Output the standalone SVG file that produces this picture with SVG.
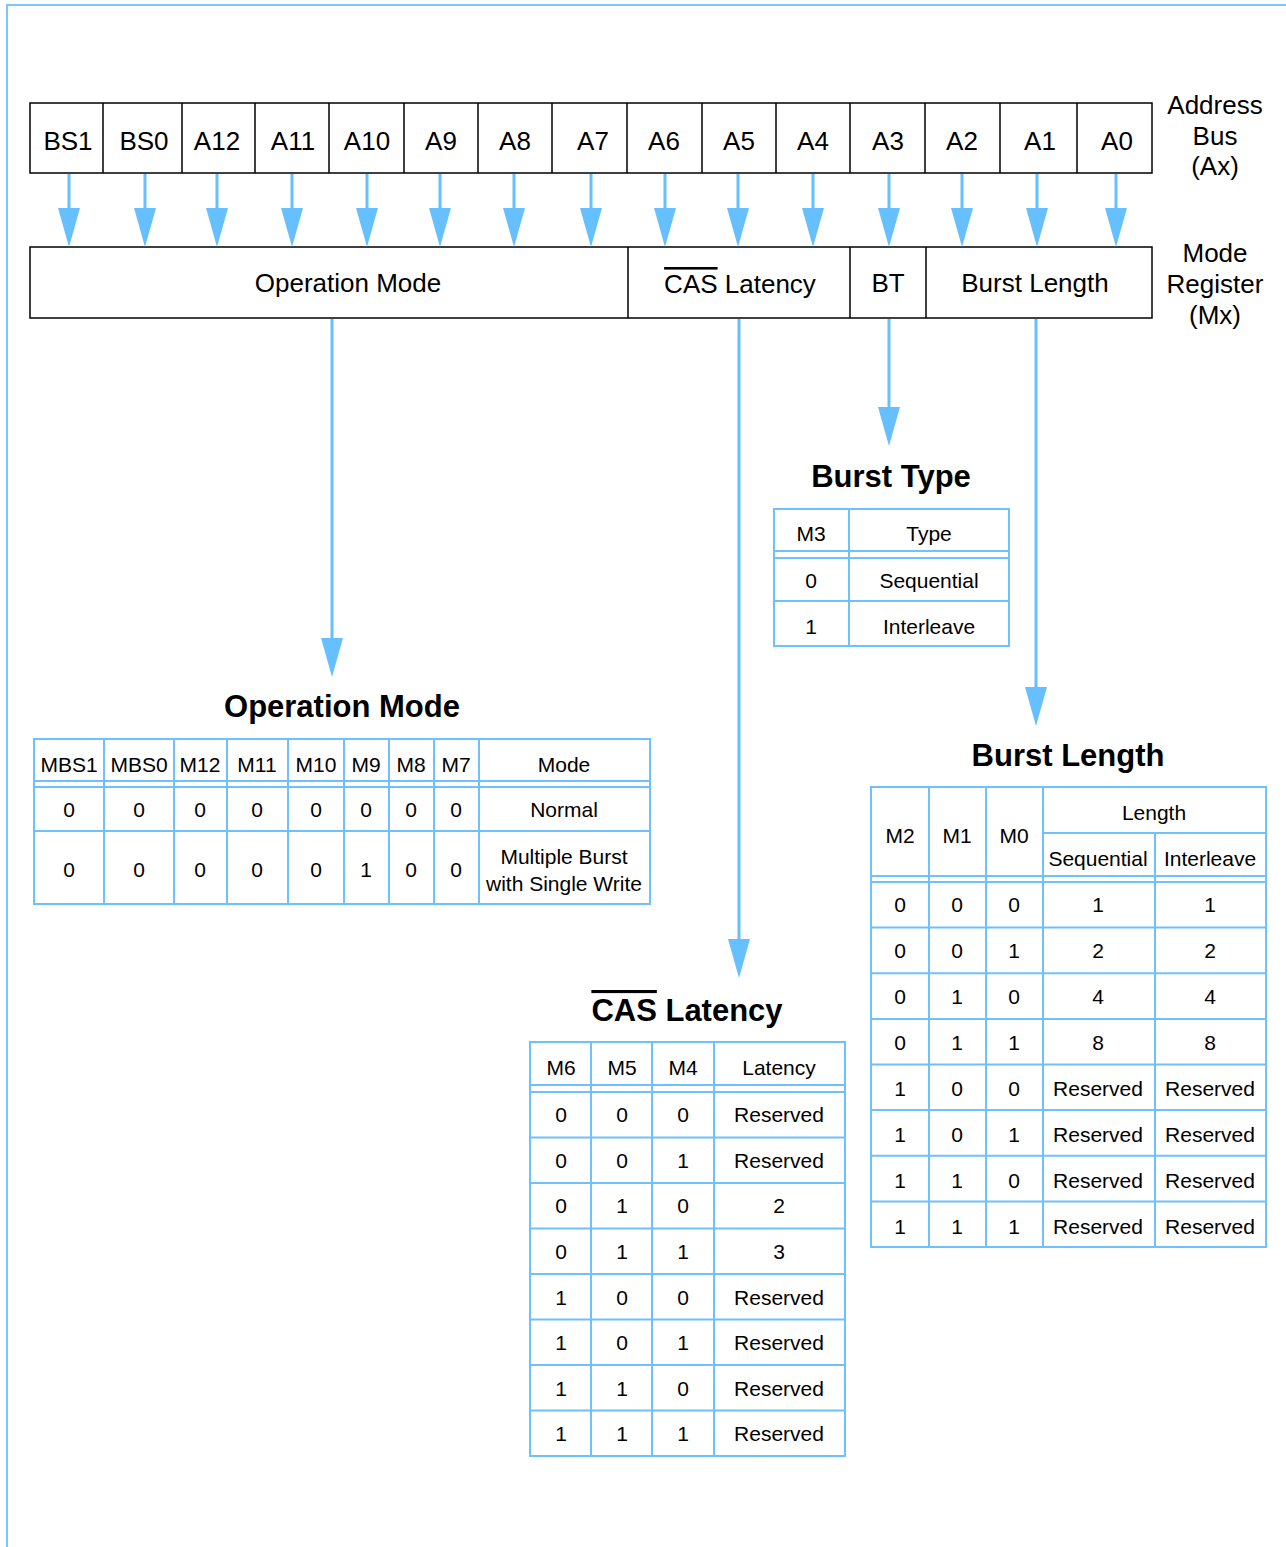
<svg xmlns="http://www.w3.org/2000/svg" width="1286" height="1547" viewBox="0 0 1286 1547">
<style>
.t{font-family:"Liberation Sans",Arial,sans-serif;fill:#000;text-anchor:middle}
.reg{font-size:26px}
.cell{font-size:21px}
.title{font-size:31px;font-weight:bold}
.box{fill:#fff;stroke:#000;stroke-width:1.5}
.grid{stroke:#6EC0FF;stroke-width:2;fill:none}
.conn{stroke:#66BFFF;stroke-width:3;fill:none}
.frame{stroke:#7CC6FF;stroke-width:2;fill:none}
</style>
<defs>
<marker id="ah" viewBox="0 0 39 22" refX="29" refY="11" markerWidth="39" markerHeight="22" markerUnits="userSpaceOnUse" orient="auto">
<path d="M0,0 L39,11 L0,22 z" fill="#66BFFF"/>
</marker>
</defs>
<rect width="1286" height="1547" fill="#fff"/>
<path class="frame" d="M7,1547 V5 H1286"/>

<g id="address-bus">
<rect class="box" x="30" y="103" width="1122" height="70"/>
<path stroke="#000" stroke-width="1.5" d="M103,103V173M182,103V173M255,103V173M329,103V173M404,103V173M478,103V173M552,103V173M627,103V173M702,103V173M776,103V173M850,103V173M925,103V173M1000,103V173M1077,103V173"/>
<g class="t reg">
<text x="68" y="150">BS1</text><text x="144" y="150">BS0</text><text x="217" y="150">A12</text><text x="293" y="150">A11</text><text x="367" y="150">A10</text><text x="441" y="150">A9</text><text x="515" y="150">A8</text><text x="593" y="150">A7</text><text x="664" y="150">A6</text><text x="739" y="150">A5</text><text x="813" y="150">A4</text><text x="888" y="150">A3</text><text x="962" y="150">A2</text><text x="1040" y="150">A1</text><text x="1117" y="150">A0</text>
</g>
</g>
<g id="address-bus-label" class="t reg">
<text x="1215" y="114">Address</text><text x="1215" y="145">Bus</text><text x="1215" y="175">(Ax)</text>
</g>

<g id="mode-register">
<rect class="box" x="30" y="247" width="1122" height="71"/>
<path stroke="#000" stroke-width="1.5" d="M628,247V318M850,247V318M926,247V318"/>
<g class="t reg">
<text x="348" y="292">Operation Mode</text>
<text x="740" y="293"><tspan text-decoration="overline">CAS</tspan> Latency</text>
<text x="888" y="292">BT</text>
<text x="1035" y="292">Burst Length</text>
</g>
</g>
<g id="mode-register-label" class="t reg">
<text x="1215" y="262">Mode</text><text x="1215" y="293">Register</text><text x="1215" y="324">(Mx)</text>
</g>

<g id="connectors" class="conn" marker-end="url(#ah)">
<path d="M69,174V237"/><path d="M145,174V237"/><path d="M217,174V237"/><path d="M292,174V237"/><path d="M367,174V237"/><path d="M440,174V237"/><path d="M514,174V237"/><path d="M591,174V237"/><path d="M665,174V237"/><path d="M738,174V237"/><path d="M813,174V237"/><path d="M889,174V237"/><path d="M962,174V237"/><path d="M1037,174V237"/><path d="M1116,174V237"/>
<path d="M332,319V667"/>
<path d="M739,319V968"/>
<path d="M889,319V436"/>
<path d="M1036,319V716"/>
</g>

<g id="burst-type">
<text class="t title" x="891" y="487">Burst Type</text>
<rect class="grid" x="774" y="509" width="235" height="137"/>
<path class="grid" d="M849,509V646M774,551H1009M774,558H1009M774,601H1009"/>
<g class="t cell">
<text x="811" y="541">M3</text><text x="929" y="541">Type</text>
<text x="811" y="588">0</text><text x="929" y="588">Sequential</text>
<text x="811" y="634">1</text><text x="929" y="634">Interleave</text>
</g>
</g>

<g id="operation-mode">
<text class="t title" x="342" y="717">Operation Mode</text>
<rect class="grid" x="34" y="739" width="616" height="165"/>
<path class="grid" d="M104,739V904M174,739V904M227,739V904M288,739V904M344,739V904M389,739V904M434,739V904M479,739V904M34,781H650M34,787H650M34,831H650"/>
<g class="t cell">
<text x="69" y="772">MBS1</text><text x="139" y="772">MBS0</text><text x="200" y="772">M12</text><text x="257" y="772">M11</text><text x="316" y="772">M10</text><text x="366" y="772">M9</text><text x="411" y="772">M8</text><text x="456" y="772">M7</text><text x="564" y="772">Mode</text>
<text x="69" y="817">0</text><text x="139" y="817">0</text><text x="200" y="817">0</text><text x="257" y="817">0</text><text x="316" y="817">0</text><text x="366" y="817">0</text><text x="411" y="817">0</text><text x="456" y="817">0</text><text x="564" y="817">Normal</text>
<text x="69" y="877">0</text><text x="139" y="877">0</text><text x="200" y="877">0</text><text x="257" y="877">0</text><text x="316" y="877">0</text><text x="366" y="877">1</text><text x="411" y="877">0</text><text x="456" y="877">0</text>
<text x="564" y="864">Multiple Burst</text><text x="564" y="891">with Single Write</text>
</g>
</g>

<g id="burst-length">
<text class="t title" x="1068" y="766">Burst Length</text>
<rect class="grid" x="871" y="787" width="395" height="460"/>
<path class="grid" d="M929,787V1247M986,787V1247M1043,787V1247M1155,833V1247M1043,833H1266M871,876H1266M871,882H1266M871,927.6H1266M871,973.3H1266M871,1018.9H1266M871,1064.5H1266M871,1110.1H1266M871,1155.8H1266M871,1201.4H1266"/>
<g class="t cell">
<text x="900" y="843">M2</text><text x="957" y="843">M1</text><text x="1014" y="843">M0</text>
<text x="1154" y="820">Length</text>
<text x="1098" y="866">Sequential</text><text x="1210" y="866">Interleave</text>
<text x="900" y="912">0</text><text x="957" y="912">0</text><text x="1014" y="912">0</text><text x="1098" y="912">1</text><text x="1210" y="912">1</text>
<text x="900" y="958">0</text><text x="957" y="958">0</text><text x="1014" y="958">1</text><text x="1098" y="958">2</text><text x="1210" y="958">2</text>
<text x="900" y="1004">0</text><text x="957" y="1004">1</text><text x="1014" y="1004">0</text><text x="1098" y="1004">4</text><text x="1210" y="1004">4</text>
<text x="900" y="1050">0</text><text x="957" y="1050">1</text><text x="1014" y="1050">1</text><text x="1098" y="1050">8</text><text x="1210" y="1050">8</text>
<text x="900" y="1096">1</text><text x="957" y="1096">0</text><text x="1014" y="1096">0</text><text x="1098" y="1096">Reserved</text><text x="1210" y="1096">Reserved</text>
<text x="900" y="1142">1</text><text x="957" y="1142">0</text><text x="1014" y="1142">1</text><text x="1098" y="1142">Reserved</text><text x="1210" y="1142">Reserved</text>
<text x="900" y="1188">1</text><text x="957" y="1188">1</text><text x="1014" y="1188">0</text><text x="1098" y="1188">Reserved</text><text x="1210" y="1188">Reserved</text>
<text x="900" y="1234">1</text><text x="957" y="1234">1</text><text x="1014" y="1234">1</text><text x="1098" y="1234">Reserved</text><text x="1210" y="1234">Reserved</text>
</g>
</g>

<g id="cas-latency">
<text class="t title" x="687" y="1021"><tspan text-decoration="overline">CAS</tspan> Latency</text>
<rect class="grid" x="530" y="1042" width="315" height="414"/>
<path class="grid" d="M591,1042V1456M652,1042V1456M714,1042V1456M530,1085H845M530,1092H845M530,1137.5H845M530,1183H845M530,1228.5H845M530,1274H845M530,1319.5H845M530,1365H845M530,1410.5H845"/>
<g class="t cell">
<text x="561" y="1075">M6</text><text x="622" y="1075">M5</text><text x="683" y="1075">M4</text><text x="779" y="1075">Latency</text>
<text x="561" y="1122">0</text><text x="622" y="1122">0</text><text x="683" y="1122">0</text><text x="779" y="1122">Reserved</text>
<text x="561" y="1168">0</text><text x="622" y="1168">0</text><text x="683" y="1168">1</text><text x="779" y="1168">Reserved</text>
<text x="561" y="1213">0</text><text x="622" y="1213">1</text><text x="683" y="1213">0</text><text x="779" y="1213">2</text>
<text x="561" y="1259">0</text><text x="622" y="1259">1</text><text x="683" y="1259">1</text><text x="779" y="1259">3</text>
<text x="561" y="1305">1</text><text x="622" y="1305">0</text><text x="683" y="1305">0</text><text x="779" y="1305">Reserved</text>
<text x="561" y="1350">1</text><text x="622" y="1350">0</text><text x="683" y="1350">1</text><text x="779" y="1350">Reserved</text>
<text x="561" y="1396">1</text><text x="622" y="1396">1</text><text x="683" y="1396">0</text><text x="779" y="1396">Reserved</text>
<text x="561" y="1441">1</text><text x="622" y="1441">1</text><text x="683" y="1441">1</text><text x="779" y="1441">Reserved</text>
</g>
</g>
</svg>
